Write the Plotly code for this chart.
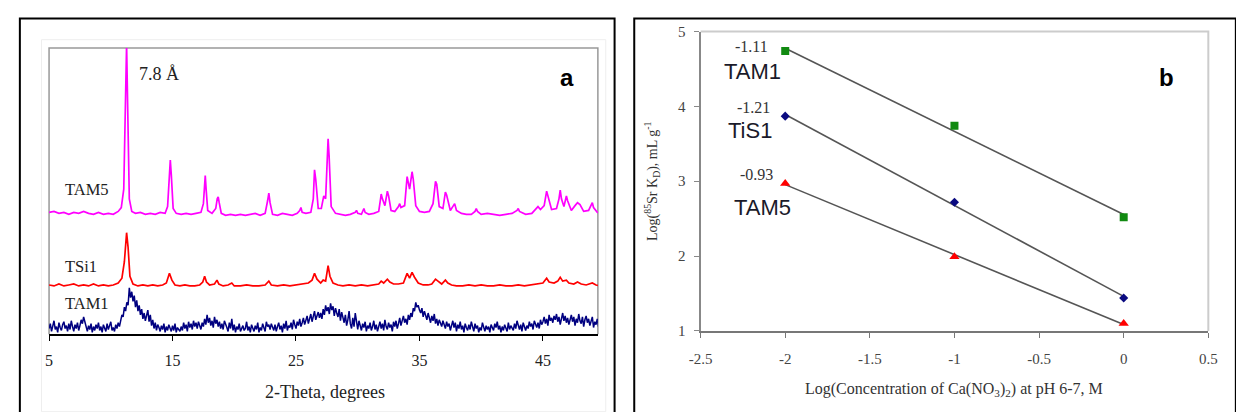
import numpy as np
import plotly.graph_objects as go

# ---------------- Panel a: XRD patterns (arbitrary intensity units, stacked) ----------------
TAM5_x = [5.0, 5.4, 5.8, 6.2, 6.6, 7.0, 7.4, 7.8, 8.2, 8.6, 9.0, 9.4, 9.8, 10.2, 10.6, 10.85, 11.05, 11.2, 11.28, 11.36,
          11.5, 11.7, 12.0, 12.4, 12.8, 13.2, 13.6, 14.0, 14.4, 14.6, 14.75, 14.82, 14.9, 15.05, 15.3, 15.7, 16.1, 16.5, 16.9, 17.3,
          17.5, 17.6, 17.65, 17.72, 17.85, 18.2, 18.5, 18.62, 18.7, 18.78, 18.95, 19.3, 19.7, 20.1, 20.5, 20.9, 21.3, 21.7, 22.1, 22.5,
          22.7, 22.8, 22.9, 23.1, 23.5, 23.9, 24.3, 24.7, 25.1, 25.3, 25.4, 25.5, 25.8, 26.2, 26.4, 26.5, 26.6, 26.8, 27.05, 27.25,
          27.4, 27.55, 27.6, 27.68, 27.85, 28.2, 28.6, 29.0, 29.4, 29.8, 29.9, 30.0, 30.3, 30.5, 30.6, 30.9, 31.3, 31.7, 31.85, 31.9,
          32.0, 32.2, 32.4, 32.5, 32.7, 33.0, 33.3, 33.4, 33.5, 33.8, 34.0, 34.2, 34.4, 34.5, 34.7, 35.0, 35.4, 35.8, 36.1, 36.3,
          36.4, 36.6, 36.9, 37.1, 37.2, 37.5, 37.75, 37.85, 38.0, 38.4, 38.8, 39.2, 39.5, 39.6, 39.7, 40.0, 40.5, 41.0, 41.5, 42.0,
          42.5, 42.9, 43.0, 43.1, 43.6, 44.1, 44.5, 44.6, 44.8, 45.1, 45.3, 45.4, 45.7, 46.1, 46.3, 46.4, 46.5, 46.7, 46.9, 47.0,
          47.3, 47.6, 47.8, 48.0, 48.3, 48.7, 48.9, 49.0, 49.1, 49.4, 49.6]
TAM5_y = [126, 127, 125, 126, 124, 126, 125, 127, 125, 124, 126, 124, 125, 124, 127, 131, 150, 240, 300, 240,
          140, 127, 125, 126, 124, 125, 124, 126, 125, 132, 170, 180, 165, 130, 125, 124, 125, 124, 125, 126,
          135, 160, 164, 150, 128, 125, 130, 140, 142, 136, 125, 123, 124, 123, 124, 123, 124, 125, 123, 125,
          138, 146, 136, 124, 123, 125, 124, 123, 125, 128, 131, 126, 125, 126, 140, 170, 160, 130, 130, 143,
          140, 185, 202, 185, 132, 125, 124, 123, 124, 126, 128, 125, 124, 130, 126, 124, 125, 127, 140, 145,
          140, 133, 148, 143, 128, 127, 132, 135, 131, 133, 163, 150, 168, 160, 133, 127, 126, 127, 135, 158,
          155, 132, 130, 147, 144, 128, 133, 135, 128, 125, 124, 124, 127, 130, 127, 124, 125, 124, 123, 124,
          125, 128, 130, 127, 124, 125, 130, 132, 129, 133, 148, 143, 129, 130, 140, 149, 140, 132, 143, 138,
          128, 133, 136, 134, 127, 128, 134, 136, 131, 126, 125]

TSI1_x = [5.0, 5.4, 5.8, 6.2, 6.6, 7.0, 7.4, 7.8, 8.2, 8.6, 9.0, 9.4, 9.8, 10.2, 10.6, 10.9, 11.1, 11.28, 11.4, 11.55,
          11.8, 12.2, 12.6, 13.0, 13.4, 13.8, 14.2, 14.5, 14.75, 14.95, 15.2, 15.6, 16.0, 16.4, 16.8, 17.2, 17.45, 17.6, 17.75, 18.0,
          18.4, 18.6, 18.75, 19.1, 19.5, 19.8, 20.0, 20.5, 21.0, 21.5, 22.0, 22.5, 22.8, 23.0, 23.5, 24.0, 24.5, 25.0, 25.5, 26.0,
          26.3, 26.5, 26.7, 27.0, 27.2, 27.4, 27.6, 27.75, 28.0, 28.4, 28.8, 29.3, 29.8, 30.3, 30.8, 31.3, 31.7, 31.9, 32.1, 32.4,
          32.6, 32.9, 33.3, 33.7, 34.0, 34.2, 34.4, 34.6, 34.9, 35.3, 35.7, 36.0, 36.3, 36.5, 36.8, 37.1, 37.3, 37.6, 38.0, 38.5,
          39.0, 39.5, 40.0, 40.5, 41.0, 41.5, 42.0, 42.5, 43.0, 43.5, 44.0, 44.5, 45.0, 45.3, 45.5, 45.9, 46.2, 46.4, 46.6, 46.9,
          47.1, 47.5, 47.8, 48.1, 48.5, 49.0, 49.3, 49.6]
TSI1_y = [51, 50, 52, 50, 51, 52, 50, 51, 50, 52, 50, 51, 50, 51, 53, 58, 75, 105, 90, 60,
          52, 50, 51, 50, 51, 50, 51, 53, 63, 56, 51, 50, 51, 50, 50, 51, 54, 60, 54, 51,
          52, 56, 52, 50, 51, 53, 50, 50, 51, 50, 50, 51, 55, 51, 50, 51, 50, 51, 52, 53,
          56, 63, 57, 53, 56, 55, 71, 60, 53, 51, 50, 51, 50, 51, 50, 51, 52, 55, 53, 57,
          54, 52, 52, 53, 63, 58, 64, 59, 53, 51, 51, 52, 57, 55, 52, 56, 53, 51, 50, 50,
          51, 50, 51, 50, 50, 51, 50, 50, 51, 50, 51, 52, 53, 58, 54, 53, 55, 59, 55, 56,
          53, 52, 54, 52, 51, 53, 51, 50]

# TAM1: read every 0.1 degrees from 5.0 to 49.6 (one row = 2 degrees)
TAM1_y = [6, 11, 3, 9, 14, 5, 8, 2, 12, 7, 4, 10, 13, 6, 9, 3, 11, 5, 14, 8,
          3, 10, 6, 12, 4, 9, 15, 11, 18, 13, 7, 3, 9, 5, 11, 2, 8, 4, 10, 6,
          12, 4, 8, 2, 10, 6, 3, 11, 5, 9, 13, 4, 7, 3, 10, 6, 12, 8, 15, 20,
          18, 28, 24, 33, 30, 48, 38, 44, 34, 40, 28, 35, 24, 30, 20, 26, 16, 22, 14, 19,
          25, 13, 20, 9, 15, 6, 12, 4, 10, 7, 3, 9, 5, 11, 2, 8, 4, 10, 6, 3,
          9, 4, 11, 2, 7, 5, 3, 8, 4, 12, 6, 10, 3, 13, 7, 11, 5, 14, 8, 12,
          6, 13, 9, 5, 12, 8, 16, 10, 20, 12, 17, 9, 14, 7, 18, 11, 15, 8, 13, 6,
          11, 5, 14, 9, 7, 3, 12, 6, 16, 4, 10, 2, 8, 5, 11, 3, 7, 9, 4, 6,
          13, 4, 8, 2, 10, 6, 3, 9, 5, 12, 2, 7, 4, 11, 6, 3, 13, 8, 10, 5,
          11, 7, 4, 10, 3, 8, 12, 5, 9, 2, 11, 6, 14, 4, 9, 7, 12, 5, 15, 10,
          6, 13, 9, 16, 8, 12, 17, 10, 14, 19, 11, 16, 21, 13, 18, 24, 15, 20, 23, 17,
          22, 16, 26, 20, 30, 24, 28, 21, 32, 25, 29, 19, 27, 22, 18, 26, 14, 23, 17, 12,
          20, 9, 15, 24, 11, 6, 17, 8, 22, 12, 5, 14, 9, 4, 11, 7, 13, 3, 9, 6,
          12, 4, 8, 14, 5, 10, 3, 9, 13, 6, 11, 4, 15, 8, 5, 12, 7, 10, 3, 13,
          8, 14, 6, 11, 17, 9, 13, 19, 12, 16, 10, 20, 15, 22, 18, 27, 24, 33, 28, 30,
          25, 22, 27, 18, 24, 20, 15, 22, 17, 12, 19, 14, 21, 11, 16, 9, 15, 12, 8, 14,
          10, 6, 13, 8, 11, 4, 9, 14, 7, 12, 3, 10, 6, 13, 5, 9, 2, 11, 7, 4,
          10, 5, 13, 8, 3, 11, 6, 9, 2, 7, 4, 12, 6, 3, 9, 5, 8, 2, 10, 6,
          4, 11, 7, 13, 5, 9, 2, 8, 4, 10, 6, 3, 12, 5, 9, 7, 4, 11, 6, 14,
          8, 5, 10, 3, 12, 7, 4, 9, 6, 13, 8, 11, 5, 14, 9, 7, 12, 6, 15, 10,
          13, 18, 11, 16, 9, 20, 14, 17, 12, 19, 15, 21, 13, 18, 10, 16, 22, 14, 19, 12,
          17, 10, 15, 20, 13, 18, 9, 16, 12, 21, 14, 11, 18, 8, 15, 19, 12, 16, 9, 14,
          18, 7, 13, 10, 16, 8, 12]
TAM1_x = np.linspace(5.0, 49.6, len(TAM1_y))

XRD_TICKS = [5, 15, 25, 35, 45]

# ---------------- Panel b: Log Kd vs Log[Ca(NO3)2] ----------------
LOGC = [-2, -1, 0]
KD_TAM1 = [4.74, 3.74, 2.52]
KD_TIS1 = [3.87, 2.72, 1.44]
KD_TAM5 = [2.97, 1.99, 1.10]
SLOPE_LABELS = ["-1.11", "-1.21", "-0.93"]
SERIES_NAMES = ["TAM1", "TiS1", "TAM5"]
B_XTICKS = [-2.5, -2, -1.5, -1, -0.5, 0, 0.5]
B_YTICKS = [1, 2, 3, 4, 5]

SERIF = "Liberation Serif"
SANS = "Liberation Sans"

fig = go.Figure()

# XRD traces
fig.add_trace(go.Scatter(x=TAM5_x, y=TAM5_y, mode="lines", line=dict(color="#ff00ff", width=1.7),
                         xaxis="x", yaxis="y", showlegend=False))
fig.add_trace(go.Scatter(x=TSI1_x, y=TSI1_y, mode="lines", line=dict(color="#ff0000", width=1.7),
                         xaxis="x", yaxis="y", showlegend=False))
fig.add_trace(go.Scatter(x=TAM1_x, y=TAM1_y, mode="lines", line=dict(color="#000080", width=1.5),
                         xaxis="x", yaxis="y", showlegend=False))

# Kd fit lines and points
series = [(KD_TAM1, "#118a11", "square", 8), (KD_TIS1, "#0a0a80", "diamond", 7), (KD_TAM5, "#ff0000", "triangle-up", 9)]
xl = np.array([-2.0, 0.0])
for vals, col, sym, sz in series:
    k, b = np.polyfit(LOGC, vals, 1)
    fig.add_trace(go.Scatter(x=xl, y=k * xl + b, mode="lines", line=dict(color="#555555", width=1.6),
                             xaxis="x2", yaxis="y2", showlegend=False))
for vals, col, sym, sz in series:
    fig.add_trace(go.Scatter(x=LOGC, y=vals, mode="markers", marker=dict(color=col, symbol=sym, size=sz),
                             xaxis="x2", yaxis="y2", showlegend=False))

W, H = 1236, 412
def px(x):
    return x / W
def py(y):
    return 1 - y / H

A_L, A_R, A_T, A_B = 37.7, 596, 41.5, 339.5
B_L, B_R, B_T, B_B = 700.5, 1217, 24.5, 336

layout = dict(
    width=W, height=H, margin=dict(l=0, r=0, t=0, b=0),
    paper_bgcolor="white", plot_bgcolor="white",
    xaxis=dict(domain=[px(A_L), px(A_R)], range=[5, 49.45], tickvals=XRD_TICKS, ticks="outside", ticklen=5,
               tickcolor="black", showline=True, linecolor="black", linewidth=1.5, showgrid=False, zeroline=False,
               ticklabelstandoff=6,
               tickfont=dict(family=SERIF, size=16, color="#222"), anchor="y"),
    yaxis=dict(domain=[py(A_B), py(A_T)], range=[0, 296], showticklabels=False, showgrid=False, zeroline=False,
               showline=False, ticks="", anchor="x"),
    xaxis2=dict(domain=[px(B_L), px(B_R)], range=[-2.5, 0.5], tickvals=B_XTICKS,
                ticktext=[("%g" % v) for v in B_XTICKS], ticks="outside", ticklen=5, tickcolor="#777",
                showline=True, linecolor="#777", linewidth=2, showgrid=False, zeroline=False,
                ticklabelstandoff=8,
                tickfont=dict(family=SERIF, size=15, color="#444"), anchor="y2"),
    yaxis2=dict(domain=[py(B_B), py(B_T)], range=[1, 5], tickvals=B_YTICKS, ticks="outside", ticklen=5,
                tickcolor="#888", showline=True, linecolor="#888", linewidth=2, showgrid=False, zeroline=False,
                ticklabelstandoff=5,
                tickfont=dict(family=SERIF, size=15, color="#444"), anchor="x2"),
)
fig.update_layout(**layout)

shapes = [
    # panel borders
    dict(type="rect", xref="paper", yref="paper", x0=px(8), x1=px(613), y0=py(430), y1=py(11),
         line=dict(color="black", width=2), layer="above"),
    dict(type="rect", xref="paper", yref="paper", x0=px(633), x1=px(1245), y0=py(430), y1=py(11),
         line=dict(color="black", width=2), layer="above"),
    # faint chart-area border panel a
    dict(type="rect", xref="paper", yref="paper", x0=px(30), x1=px(604), y0=py(420), y1=py(33),
         line=dict(color="#eeeeee", width=1), layer="below"),
    # plot-area frame panel a (top, left, right)
    dict(type="path", xref="paper", yref="paper",
         path="M %f %f L %f %f L %f %f L %f %f" % (px(A_L), py(A_B), px(A_L), py(A_T), px(A_R), py(A_T), px(A_R), py(A_B)),
         line=dict(color="#999999", width=1.5), layer="below"),
    # plot-area frame panel b (top, right)
    dict(type="path", xref="paper", yref="paper",
         path="M %f %f L %f %f L %f %f" % (px(B_L), py(B_T), px(B_R), py(B_T), px(B_R), py(B_B)),
         line=dict(color="#cccccc", width=2), layer="below"),
]
fig.update_layout(shapes=shapes)

ann = []
def add(text, x, y, size, family=SERIF, color="#222", bold=False, angle=0):
    ann.append(dict(text=("<b>%s</b>" % text) if bold else text, x=px(x), y=py(y), xref="paper", yref="paper",
                    showarrow=False, xanchor="center", yanchor="middle", textangle=angle,
                    font=dict(family=family, size=size, color=color)))

# panel a texts
add("7.8 Å", 150, 69, 18)
add("a", 565, 72, 24, family=SANS, color="black", bold=True)
add("TAM5", 76, 189, 16.5)
add("TSi1", 70, 269, 16.5)
add("TAM1", 76, 307, 16.5)
add("2-Theta, degrees", 318, 399, 18)

# panel b texts
slope_pos = [(752, 40), (754, 103), (757, 173)]
name_pos = [(753, 66), (751, 127), (763, 208)]
for lab, (x, y) in zip(SLOPE_LABELS, slope_pos):
    add(lab, x, y, 16, color="#333")
for lab, (x, y) in zip(SERIES_NAMES, name_pos):
    add(lab, x, y, 22, family=SANS, color="#1a1a2a")
add("b", 1174, 72, 24, family=SANS, color="black", bold=True)
add("Log(<sup>85</sup>Sr K<sub>D</sub>), mL g<sup>-1</sup>", 651, 180, 14, color="#333", angle=-90)
add("Log(Concentration of Ca(NO<sub>3</sub>)<sub>2</sub>) at pH 6-7, M", 958, 397, 16, color="#333")

fig.update_layout(annotations=ann)

fig.write_html("out.html")
